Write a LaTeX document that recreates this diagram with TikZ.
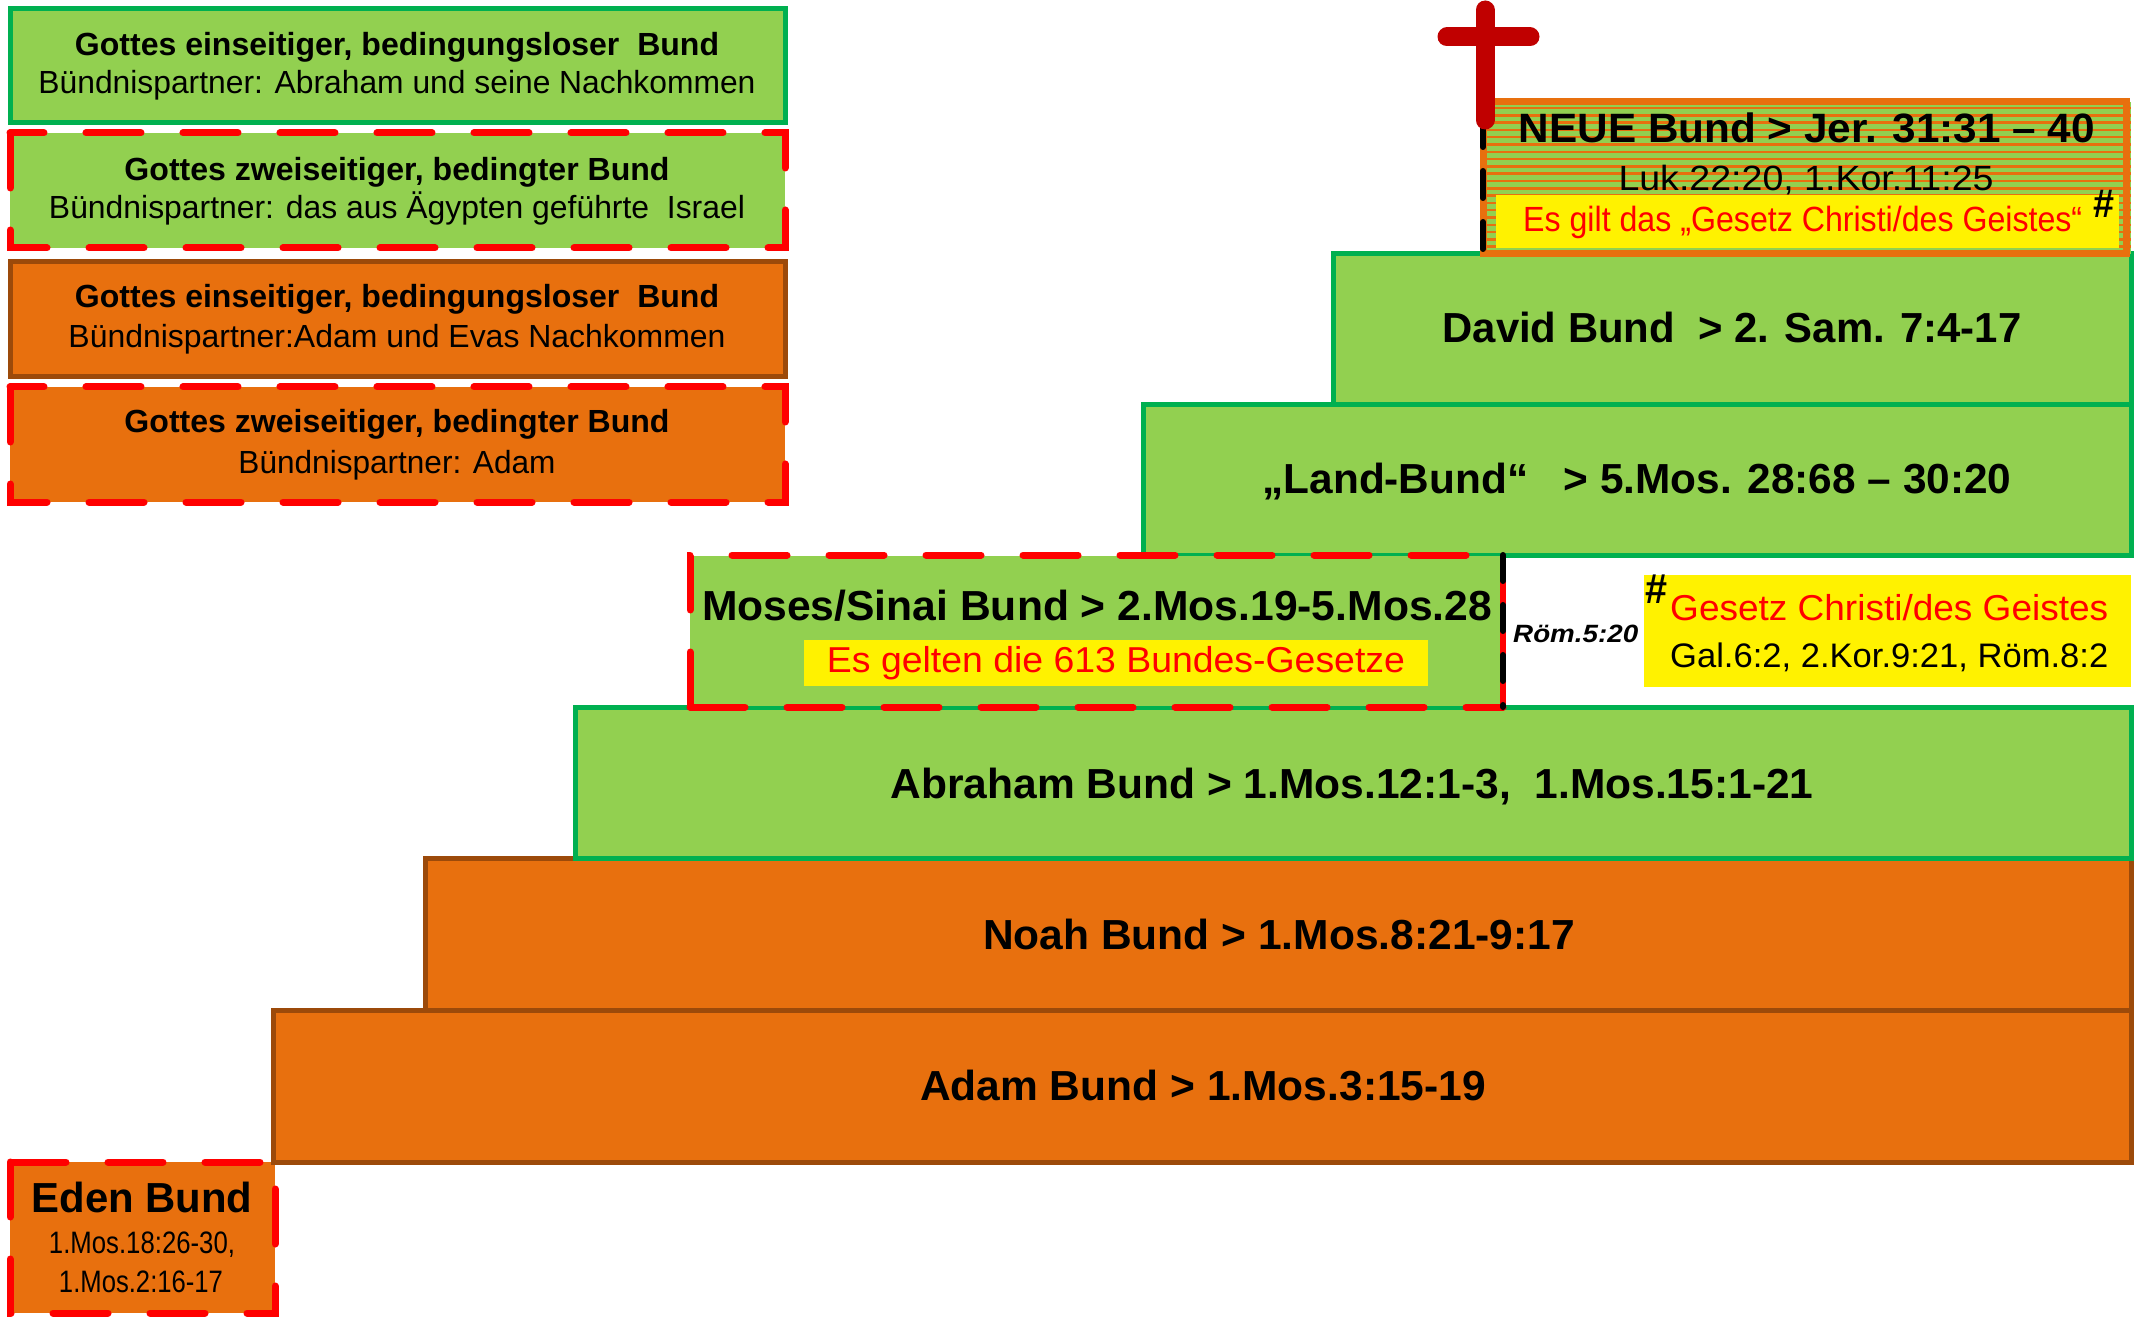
\documentclass[tikz,border=0pt]{standalone}
\usepackage{fontspec}
\setmainfont{Liberation Sans}
\usepackage{graphicx}
\definecolor{lgreen}{HTML}{92D050}
\definecolor{dgreen}{HTML}{00B050}
\definecolor{orng}{HTML}{E8700E}
\definecolor{brwn}{HTML}{9C4A0A}
\definecolor{crossred}{HTML}{C00000}
\newcommand\fw[2]{\resizebox{#1bp}{\height}{#2}}
\tikzset{
  greenbox/.style={fill=lgreen, draw=dgreen, line width=5bp},
  orangebox/.style={fill=orng, draw=brwn, line width=5bp},
  reddash/.style={draw=red, line width=7bp, line cap=round, dash pattern=on 55bp off 42bp},
  txr/.style={anchor=base, inner sep=0pt, font=\fontsize{#1bp}{#1bp}\selectfont},
  txb/.style={anchor=base, inner sep=0pt, font=\fontsize{#1bp}{#1bp}\selectfont\bfseries},
  crossbar/.style={draw=crossred, line width=19bp, line cap=round}
}
\begin{document}
\begin{tikzpicture}[x=1bp, y=-1bp]
\useasboundingbox (0,0) rectangle (2134,1319);
\fill[white] (0,0) rectangle (2134,1319);

% legend boxes
\draw[greenbox] (10,9) rectangle (785,123);
\fill[lgreen] (10,133) rectangle (785,248);
\draw[reddash] (10,133) rectangle (785,248);
\draw[orangebox] (10,262) rectangle (785,377);
\fill[orng] (10,387) rectangle (785,502);
\draw[reddash] (10,387) rectangle (785,502);

\node[txb=32] (l1a) at (397,56) {\fw{644}{Gottes einseitiger, bedingungsloser\ \ Bund}};
\node[txr=32] (l1b) at (397,94) {\fw{717}{Bündnispartner: Abraham und seine Nachkommen}};
\node[txb=32] (l2a) at (397,181) {\fw{545}{Gottes zweiseitiger, bedingter Bund}};
\node[txr=32] (l2b) at (397,219) {\fw{696}{Bündnispartner: das aus Ägypten geführte\ \ Israel}};
\node[txb=32] (l3a) at (397,308) {\fw{644}{Gottes einseitiger, bedingungsloser\ \ Bund}};
\node[txr=32] (l3b) at (397,348) {\fw{657}{Bündnispartner:Adam und Evas Nachkommen}};
\node[txb=32] (l4a) at (397,433) {\fw{545}{Gottes zweiseitiger, bedingter Bund}};
\node[txr=32] (l4b) at (397,473) {\fw{317}{Bündnispartner: Adam}};

% Eden
\fill[orng] (10,1162) rectangle (275,1313);
\draw[reddash] (10,1162) rectangle (275,1313);

% steps
\draw[orangebox] (273,1010) rectangle (2131,1162);
\draw[orangebox] (425,858) rectangle (2131,1010);
\draw[greenbox] (575,707) rectangle (2131,858);
\draw[greenbox] (1143,405) rectangle (2131,555);
\draw[greenbox] (1333,254) rectangle (2131,405);

% Moses
\fill[lgreen] (690,556) rectangle (1503,706);
\draw[reddash] (690,707) -- (690,555) -- (1503,555);
\draw[reddash] (690,707) -- (1503,707);
\draw[red, line width=6bp] (1503,555) -- (1503,707);
\draw[black, line width=6bp, line cap=round, dash pattern=on 26bp off 24bp] (1503,555) -- (1503,707);
\fill[yellow] (804,640) rectangle (1428,686);

% NEUE
\fill[lgreen] (1483,102) rectangle (2131,254);
\foreach \yy in {108,115.3,...,252} \draw[orng, line width=2.5bp] (1483,\yy) -- (2131,\yy);
\draw[orng, line width=7bp] (1483,102) rectangle (2126,254);
\fill[yellow] (1496,195) rectangle (2119,248);
\draw[black, line width=6bp, line cap=round, dash pattern=on 27bp off 24bp] (1483,120) -- (1483,250);

% right yellow box
\fill[yellow] (1644,575) rectangle (2131,687);

% texts
\node[txb=42] (adam) at (1203,1100) {\fw{566}{Adam Bund > 1.Mos.3:15-19}};
\node[txb=42] (noah) at (1279,949) {\fw{592}{Noah Bund > 1.Mos.8:21-9:17}};
\node[txb=42] (abraham) at (1352,798) {\fw{923}{Abraham Bund > 1.Mos.12:1-3,\ \ 1.Mos.15:1-21}};
\node[txb=42] (land) at (1637,493) {\fw{749}{„Land-Bund“\ \ \ > 5.Mos. 28:68 – 30:20}};
\node[txb=42] (david) at (1732,343) {\fw{579}{David Bund\ \ > 2. Sam. 7:4-17}};
\node[txb=41] (neue) at (1807,143) {\fw{576}{NEUE Bund > Jer. 31:31 – 40}};
\node[txr=35] (luk) at (1806,191) {\fw{375}{Luk.22:20, 1.Kor.11:25}};
\node[txr=35, anchor=base west, text=red] (gilt) at (1523,232) {\fw{559}{Es gilt das „Gesetz Christi/des Geistes“}};
\node[txb=40, anchor=base west] (hash1) at (2093,218) {\fw{21}{\#}};
\node[txb=42] (moses) at (1097,620) {\fw{790}{Moses/Sinai Bund > 2.Mos.19-5.Mos.28}};
\node[txr=36, text=red] (gelten) at (1116,672) {\fw{578}{Es gelten die 613 Bundes-Gesetze}};
\node[txb=25, anchor=base west, font=\fontsize{25bp}{25bp}\selectfont\bfseries\itshape] (rom) at (1513,642) {\fw{125}{Röm.5:20}};
\node[txb=42, anchor=base west] (hash2) at (1645,603) {\fw{22}{\#}};
\node[txr=36, anchor=base west, text=red] (gesetz) at (1670,620) {\fw{438}{Gesetz Christi/des Geistes}};
\node[txr=34, anchor=base west] (gal) at (1670,667) {\fw{438}{Gal.6:2, 2.Kor.9:21, Röm.8:2}};
\node[txb=42] (eden) at (142,1212) {\fw{221}{Eden Bund}};
\node[txr=31] (eden2) at (142,1253) {\fw{186}{1.Mos.18:26-30,}};
\node[txr=31] (eden3) at (141,1292) {\fw{164}{1.Mos.2:16-17}};

% cross
\draw[crossbar] (1485,10) -- (1485,120);
\draw[crossbar] (1447,37) -- (1530,37);
\end{tikzpicture}
\end{document}
